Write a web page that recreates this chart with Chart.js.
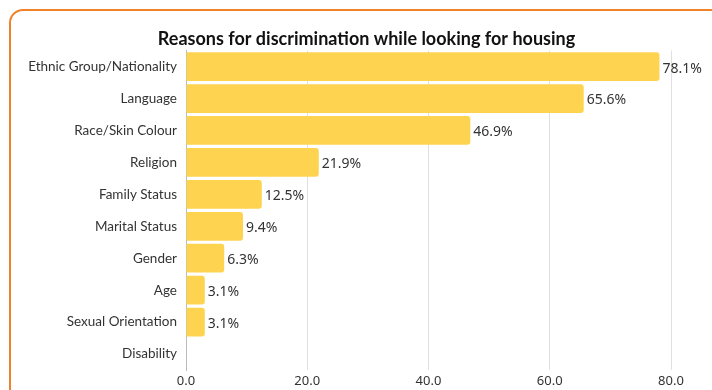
<!DOCTYPE html>
<html>
<head>
<meta charset="utf-8">
<script src="https://cdn.jsdelivr.net/npm/chart.js@4"></script>
<style>
  body { margin: 0; background: #fff; }
  #wrap { position: relative; width: 712px; height: 390px; overflow: hidden; }
  .card {
    position: absolute; left: 9px; top: 9px; width: 740px; height: 420px;
    border: 2px solid #F0832A; border-radius: 14px; box-sizing: border-box;
  }
  canvas { position: absolute; left: 0; top: 0; }
</style>
</head>
<body>
<div id="wrap">
  <div class="card"></div>
  <canvas id="reasons" width="712" height="390"></canvas>
</div>
<script>
const reasons = ["Ethnic Group/Nationality", "Language", "Race/Skin Colour", "Religion",
  "Family Status", "Marital Status", "Gender", "Age", "Sexual Orientation", "Disability"];
const shares = [78.1, 65.6, 46.9, 21.9, 12.5, 9.4, 6.3, 3.1, 3.1, 0];
const xTicks = [0, 20, 40, 60, 80];

// writes the percentage just past the end of each bar
const barLabels = {
  id: "barLabels",
  afterDatasetsDraw(chart) {
    const ctx = chart.ctx;
    const meta = chart.getDatasetMeta(0);
    ctx.save();
    ctx.font = "14px 'Noto Sans'";
    ctx.fillStyle = "#333";
    ctx.textAlign = "left";
    ctx.textBaseline = "middle";
    meta.data.forEach((bar, i) => {
      if (!shares[i]) return;
      ctx.fillText(shares[i].toFixed(1) + "%", bar.x + 3, bar.y + 2);
    });
    ctx.restore();
  }
};

// nudge the title a little right of the canvas centre
const titleShift = {
  id: "titleShift",
  afterLayout(chart) {
    const t = chart.titleBlock;
    if (t) { t.left += 26; t.right += 26; }
  }
};

new Chart(document.getElementById("reasons"), {
  type: "bar",
  data: {
    labels: reasons,
    datasets: [{
      data: shares,
      backgroundColor: "#FDD34F",
      borderRadius: 3,
      borderSkipped: "start",
      categoryPercentage: 1,
      barPercentage: 0.9
    }]
  },
  options: {
    indexAxis: "y",
    responsive: false,
    animation: false,
    layout: { padding: { top: 28, right: 41, left: 10, bottom: 0 } },
    plugins: {
      legend: { display: false },
      tooltip: { enabled: false },
      title: {
        display: true,
        text: "Reasons for discrimination while looking for housing",
        color: "#111",
        font: { family: "Lato", size: 18, weight: "bold" },
        padding: { top: 0, bottom: 1 }
      }
    },
    scales: {
      x: {
        min: 0,
        max: 80,
        afterBuildTicks: (scale) => { scale.ticks = xTicks.map(v => ({ value: v })); },
        afterFit: (scale) => { scale.height = 20; },
        grid: { color: "#e0e0e0", drawTicks: false },
        border: { display: false },
        ticks: {
          color: "#333",
          padding: 3,
          font: { family: "Noto Sans", size: 13 },
          callback: (v) => Number(v).toFixed(1)
        }
      },
      y: {
        afterFit: (scale) => { scale.width = 176; },
        grid: { display: false, drawTicks: false },
        border: { display: true, color: "#bbb", width: 1 },
        ticks: {
          color: "#333",
          padding: 9,
          font: { family: "Lato", size: 13.5 }
        }
      }
    }
  },
  plugins: [barLabels, titleShift]
});
</script>
</body>
</html>
